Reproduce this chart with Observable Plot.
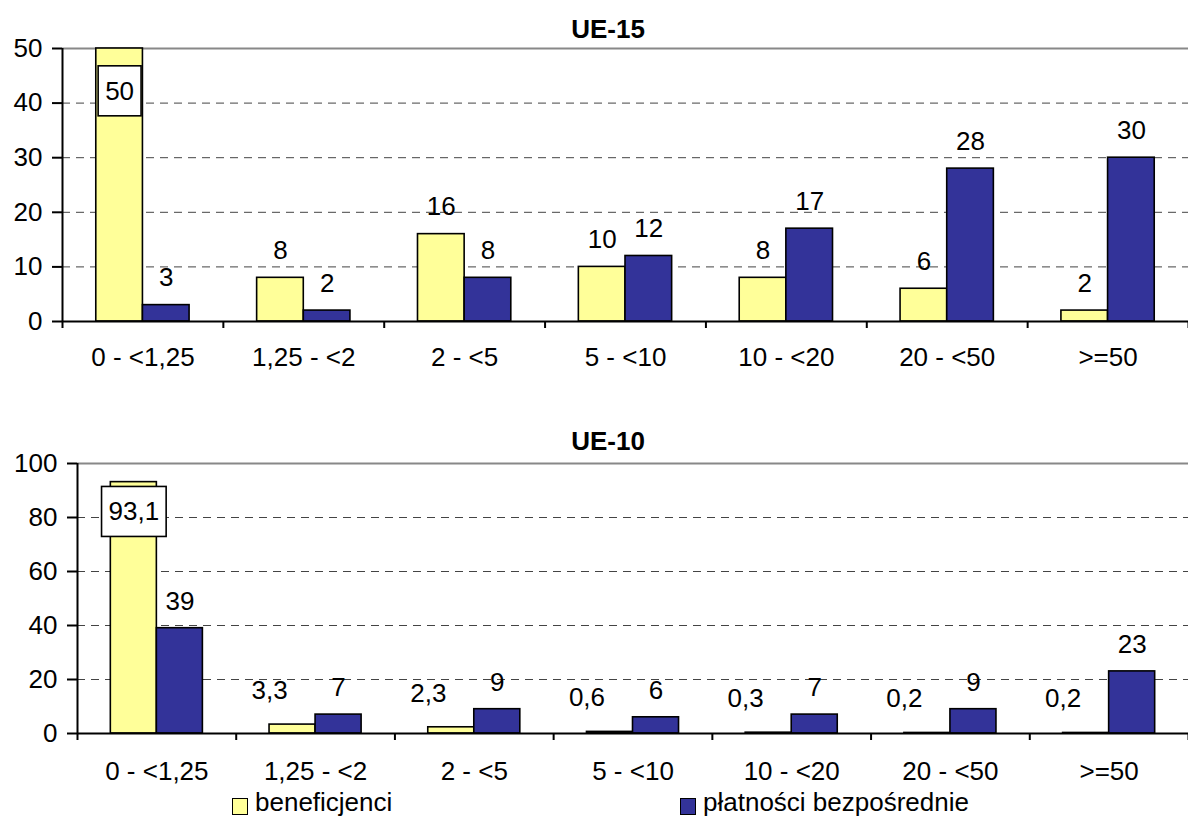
<!DOCTYPE html>
<html>
<head>
<meta charset="utf-8">
<script src="https://cdn.jsdelivr.net/npm/d3@7"></script>
<script src="https://cdn.jsdelivr.net/npm/@observablehq/plot@0.6"></script>
<style>
  html, body { margin: 0; padding: 0; background: #fff; }
  body { width: 1188px; height: 818px; overflow: hidden; position: relative;
         font-family: "Liberation Sans", Arial, sans-serif; color: #000; }
  .title { position: absolute; left: 508px; width: 200px; text-align: center;
           font-weight: bold; font-size: 26px; line-height: 30px; }
  .panel { position: absolute; left: 0; }
  .legend-item { position: absolute; top: 789px; font-size: 26px; line-height: 26px; white-space: nowrap; }
  .legend-box { position: absolute; top: 9px; width: 14px; height: 15px; border: 1.5px solid #000; }
  .legend-text { position: absolute; left: 23px; top: 0; }
</style>
</head>
<body>
<script>
// ---- data ----
const categories = ["0 - <1,25", "1,25 - <2", "2 - <5", "5 - <10", "10 - <20", "20 - <50", ">=50"];
const seriesNames = ["beneficjenci", "płatności bezpośrednie"];
const seriesColors = ["#FFFF99", "#333399"];
const ue15Beneficjenci = [50, 8, 16, 10, 8, 6, 2];
const ue15Platnosci = [3, 2, 8, 12, 17, 28, 30];
const ue10Beneficjenci = [93.1, 3.3, 2.3, 0.6, 0.3, 0.2, 0.2];
const ue10Platnosci = [39, 7, 9, 6, 7, 9, 23];
const ue15YTicks = [0, 10, 20, 30, 40, 50];
const ue10YTicks = [0, 20, 40, 60, 80, 100];

const FONT = '"Liberation Sans", Arial, sans-serif';
const FS = 26;
const fmt = v => String(v).replace(".", ",");
const HALF = 0.29; // bar width in category units

function rows(benef, platn) {
  const out = [];
  categories.forEach((c, i) => {
    out.push({i, cat: c, series: seriesNames[0], s: 0, value: benef[i]});
    out.push({i, cat: c, series: seriesNames[1], s: 1, value: platn[i]});
  });
  return out;
}

function panel({benef, platn, yTicks, top, height, marginLeft, marginBottom, xLabelPad,
                boxDy, smallYellowShift}) {
  const data = rows(benef, platn);
  const yMax = yTicks[yTicks.length - 1];
  const first = data.filter(d => d.s === 0 && d.i === 0);
  const yellowRest = data.filter(d => d.s === 0 && d.i > 0);
  const blue = data.filter(d => d.s === 1);
  const center = d => d.s === 0 ? d.i - HALF / 2 : d.i + HALF / 2;
  const labelOpts = {x: center, y: "value", text: d => fmt(d.value), fontSize: FS, fill: "#000"};

  const marks = [
    Plot.ruleY(yTicks.slice(1, -1), {stroke: "#444", strokeWidth: 1, strokeDasharray: "8,6"}),
    Plot.ruleY([yMax], {stroke: "#888", strokeWidth: 2}),
    Plot.rectY(data, {
      x1: d => d.s === 0 ? d.i - HALF : d.i,
      x2: d => d.s === 0 ? d.i : d.i + HALF,
      y: "value",
      fill: d => seriesColors[d.s],
      stroke: "#000", strokeWidth: 1.6
    }),
    Plot.ruleY([0], {stroke: "#000", strokeWidth: 2}),
    Plot.ruleX([-0.5], {stroke: "#000", strokeWidth: 2}),
    Plot.axisY(yTicks, {tickSize: 10, tickPadding: 10, fontSize: FS, strokeWidth: 2,
                        stroke: "#000", fill: "#000", label: null}),
    Plot.axisX(d3.range(-0.5, 7, 1), {tickSize: 7, strokeWidth: 2, stroke: "#000",
                                      tickFormat: () => "", label: null}),
    Plot.axisX(d3.range(0, 7), {tickSize: 0, tickPadding: xLabelPad, fontSize: FS, fill: "#000",
                                tickFormat: i => categories[i], label: null}),
    Plot.text(blue, {...labelOpts, dy: -27}),
    Plot.text(yellowRest, {...labelOpts, dx: smallYellowShift[0], dy: smallYellowShift[1]}),
    Plot.text(first, {...labelOpts, dy: boxDy, ariaDescription: "boxed-label"})
  ];

  const chart = Plot.plot({
    width: 1188,
    height,
    marginTop: 8,
    marginLeft,
    marginRight: 0,
    marginBottom,
    style: {fontFamily: FONT, fontSize: FS + "px", background: "transparent", overflow: "visible"},
    x: {domain: [-0.5, 6.5]},
    y: {domain: [0, yMax]},
    marks
  });
  chart.classList.add("panel");
  chart.style.top = top + "px";
  document.body.appendChild(chart);

  // white framed box behind the label that sits inside the tallest bar
  d3.select(chart).selectAll('g[aria-description="boxed-label"] text').each(function () {
    const bb = this.getBBox();
    const cx = bb.x + bb.width / 2;
    const cy = bb.y + bb.height / 2;
    const r = d3.select(this.parentNode).insert("rect", () => this)
      .attr("x", cx - bb.width / 2 - 7).attr("width", bb.width + 14)
      .attr("y", cy - 25).attr("height", 50)
      .attr("fill", "#fff").attr("stroke", "#000").attr("stroke-width", 1.6);
    const tr = this.getAttribute("transform");
    if (tr) r.attr("transform", tr);
  });
  return chart;
}

function addTitle(text, top) {
  const t = document.createElement("div");
  t.className = "title";
  t.style.top = top + "px";
  t.textContent = text;
  document.body.appendChild(t);
}

addTitle("UE-15", 14);
panel({benef: ue15Beneficjenci, platn: ue15Platnosci, yTicks: ue15YTicks,
       top: 40, height: 340, marginLeft: 62, marginBottom: 59, xLabelPad: 26,
       boxDy: 43, smallYellowShift: [0, -27]});

addTitle("UE-10", 426);
panel({benef: ue10Beneficjenci, platn: ue10Platnosci, yTicks: ue10YTicks,
       top: 455, height: 335, marginLeft: 77, marginBottom: 57, xLabelPad: 28,
       boxDy: 30, smallYellowShift: [-23, -34]});

// legend
const legendLeft = [232, 680];
seriesNames.forEach((name, k) => {
  const item = document.createElement("div");
  item.className = "legend-item";
  item.style.left = legendLeft[k] + "px";
  const box = document.createElement("span");
  box.className = "legend-box";
  box.style.background = seriesColors[k];
  const txt = document.createElement("span");
  txt.className = "legend-text";
  txt.textContent = name;
  item.appendChild(box);
  item.appendChild(txt);
  document.body.appendChild(item);
});
</script>
</body>
</html>
